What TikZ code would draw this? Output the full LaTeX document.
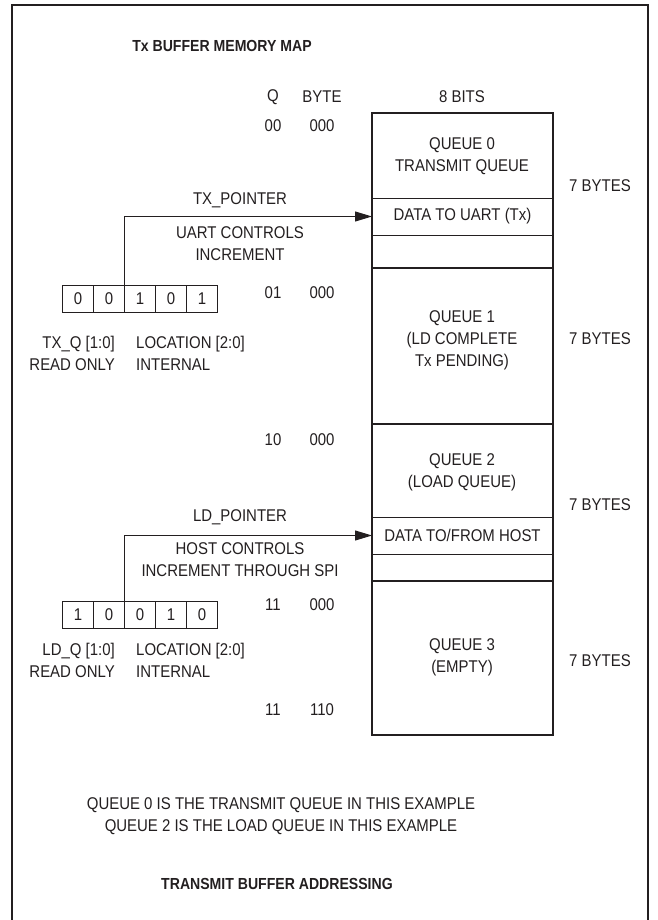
\documentclass[tikz,border=0pt]{standalone}
\usepackage{fontspec}
\setmainfont{Liberation Sans}[FakeStretch=0.88]
\usetikzlibrary{positioning, arrows.meta}
\definecolor{ink}{HTML}{231F20}

\begin{document}
\begin{tikzpicture}[x=1pt, y=-1pt,
    txt/.style={font=\fontsize{17}{22}\selectfont, text=ink, inner sep=0pt, align=center},
    hdr/.style={font=\bfseries\fontsize{16}{20}\selectfont, text=ink, inner sep=0pt},
    bitcell/.style={draw=ink, line width=1.2pt, minimum width=31pt, minimum height=27pt,
        inner sep=0pt, outer sep=0pt, txt},
    slot/.style={minimum width=181pt, minimum height=37pt, inner sep=0pt, outer sep=0pt, txt},
    ptr/.style={draw=ink, line width=1pt, -{Triangle[length=17pt, width=10pt]}},
    mapline/.style={draw=ink, line width=2.4pt},
    thinline/.style={draw=ink, line width=0.9pt}]
    \useasboundingbox (0,0) rectangle (657,920);
    \draw[ink, line width=2pt] (12,930) -- (12,5) -- (648,5) -- (648,930);

    \node[hdr] (title) at (222,46) {Tx BUFFER MEMORY MAP};
    \node[txt] (qcol) at (273,97) {Q};
    \node[txt] (bytecol) at (322,97) {BYTE};
    \node[txt] (bitscol) at (462,97) {8 BITS};
    \foreach \q/\b/\y in {00/000/126, 01/000/293, 10/000/440, 11/000/605, 11/110/710} {
        \node[txt] (qa\y) at (273,\y) {\q};
        \node[txt] (ba\y) at (322,\y) {\b};
    }

    % memory map
    \draw[mapline] (372,113) rectangle (553,735);
    \foreach \y in {268,424,581} \draw[mapline] (372,\y) -- (553,\y);
    \foreach \y in {198,235,517,554} \draw[thinline] (372,\y) -- (553,\y);
    \node[txt] (q0) at (462,156) {QUEUE 0\\TRANSMIT QUEUE};
    \node[slot] (txslot) at (462.5,216.5) {DATA TO UART (Tx)};
    \node[txt] (q1) at (462,340) {QUEUE 1\\(LD COMPLETE\\Tx PENDING)};
    \node[txt] (q2) at (462,472) {QUEUE 2\\(LOAD QUEUE)};
    \node[slot] (ldslot) at (462.5,535.5) {DATA TO/FROM HOST};
    \node[txt] (q3) at (462,657) {QUEUE 3\\(EMPTY)};
    \foreach \y in {186,339,505,661} \node[txt] (sz\y) at (600,\y) {7 BYTES};

    % pointers
    \foreach \b [count=\i] in {0,0,1,0,1} \node[bitcell] (tx\i) at (47+31*\i,299) {\b};
    \foreach \b [count=\i] in {1,0,0,1,0} \node[bitcell] (ld\i) at (47+31*\i,615) {\b};
    \draw[ptr] (tx2.north east) |- (txslot.west);
    \draw[ptr] (ld2.north east) |- (ldslot.west);
    \node[txt] (txptr) at (240,200) {TX\_POINTER};
    \node[txt] (txinc) at (240,244) {UART CONTROLS\\INCREMENT};
    \node[txt] (ldptr) at (240,517) {LD\_POINTER};
    \node[txt] (ldinc) at (240,560) {HOST CONTROLS\\INCREMENT THROUGH SPI};
    \node[txt, align=right, anchor=east] (txq) at (115,353) {TX\_Q [1:0]\\READ ONLY};
    \node[txt, align=left, anchor=west] (txloc) at (136,353) {LOCATION [2:0]\\INTERNAL};
    \node[txt, align=right, anchor=east] (ldq) at (115,660) {LD\_Q [1:0]\\READ ONLY};
    \node[txt, align=left, anchor=west] (ldloc) at (136,660) {LOCATION [2:0]\\INTERNAL};

    \node[txt] (note) at (281,816) {QUEUE 0 IS THE TRANSMIT QUEUE IN THIS EXAMPLE\\QUEUE 2 IS THE LOAD QUEUE IN THIS EXAMPLE};
    \node[hdr] (caption) at (277,884) {TRANSMIT BUFFER ADDRESSING};
\end{tikzpicture}
\end{document}
